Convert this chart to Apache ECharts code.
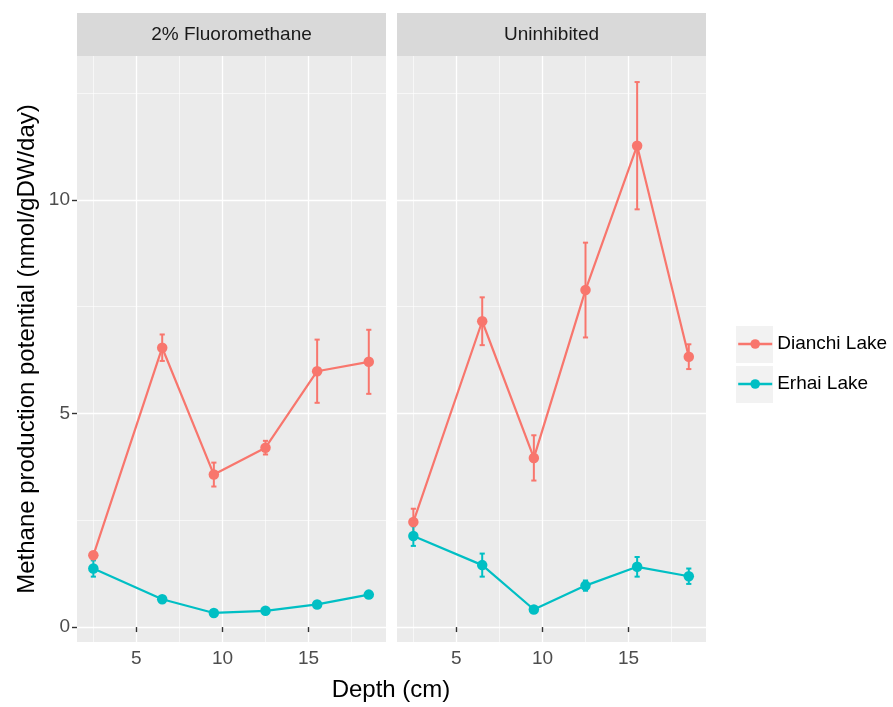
<!DOCTYPE html>
<html lang="en">
<head>
    <meta charset="UTF-8">
    <title>Methane production potential</title>
    <script src="https://cdn.jsdelivr.net/npm/echarts@6/dist/echarts.min.js"></script>
    <style>
        html, body { margin: 0; padding: 0; background: #fff; }
        #main { width: 893px; height: 707px; }
    </style>
</head>
<body>
<div id="main"></div>
<script>
    // depth (cm) and means / standard errors
    var depth = [2.5, 6.5, 9.5, 12.5, 15.5, 18.5];
    var panels = ['2% Fluoromethane', 'Uninhibited'];
    var lakes = ['Dianchi Lake', 'Erhai Lake'];

    var fluoroDianchi   = [1.68, 6.54, 3.57, 4.20, 5.99, 6.21];
    var fluoroDianchiSe = [0.08, 0.31, 0.28, 0.16, 0.74, 0.75];
    var fluoroErhai     = [1.37, 0.65, 0.33, 0.38, 0.53, 0.76];
    var fluoroErhaiSe   = [0.19, 0.05, 0.03, 0.03, 0.04, 0.04];

    var uninhDianchi    = [2.46, 7.16, 3.96, 7.89, 11.27, 6.33];
    var uninhDianchiSe  = [0.31, 0.56, 0.53, 1.11, 1.49, 0.29];
    var uninhErhai      = [2.13, 1.45, 0.41, 0.97, 1.41, 1.19];
    var uninhErhaiSe    = [0.23, 0.27, 0.04, 0.12, 0.23, 0.18];

    var xMajor = [5, 10, 15];
    var xMinor = [2.5, 7.5, 12.5, 17.5];
    var yMajor = [0, 5, 10];
    var yMinor = [2.5, 7.5, 12.5];

    var colors = ['#F8766D', '#00BFC4'];
    var FONT = 'Liberation Sans, Arial, Helvetica, sans-serif';

    var values = [[fluoroDianchi, fluoroErhai], [uninhDianchi, uninhErhai]];
    var errors = [[fluoroDianchiSe, fluoroErhaiSe], [uninhDianchiSe, uninhErhaiSe]];

    var grids = [
        {left: 77, top: 56, width: 309, height: 586},
        {left: 397, top: 56, width: 309, height: 586}
    ];

    var xAxes = [], yAxes = [], lineSeries = [], barSeries = [];

    for (var p = 0; p < 2; p++) {
        // major axis (ticks, labels, thick grid)
        xAxes.push({
            type: 'value', gridIndex: p, min: 1.55, max: 19.5,
            axisLine: {show: false},
            axisTick: {show: true, length: 5, customValues: xMajor, lineStyle: {color: '#333', width: 1.4}},
            axisLabel: {customValues: xMajor, color: '#4D4D4D', fontSize: 19, fontFamily: FONT, margin: 7},
            splitLine: {show: true, lineStyle: {color: '#fff', width: 1.3}}
        });
        // minor grid
        xAxes.push({
            type: 'value', gridIndex: p, min: 1.55, max: 19.5,
            axisLine: {show: false},
            axisTick: {show: false, customValues: xMinor},
            axisLabel: {show: false},
            splitLine: {show: true, lineStyle: {color: '#fff', width: 0.6}}
        });
        yAxes.push({
            type: 'value', gridIndex: p, min: -0.35, max: 13.37,
            axisLine: {show: false},
            axisTick: {show: p === 0, length: 5, customValues: yMajor, lineStyle: {color: '#333', width: 1.4}},
            axisLabel: {show: p === 0, customValues: yMajor, color: '#4D4D4D', fontSize: 19, fontFamily: FONT, margin: 7},
            splitLine: {show: true, lineStyle: {color: '#fff', width: 1.3}}
        });
        yAxes.push({
            type: 'value', gridIndex: p, min: -0.35, max: 13.37,
            axisLine: {show: false},
            axisTick: {show: false, customValues: yMinor},
            axisLabel: {show: false},
            splitLine: {show: true, lineStyle: {color: '#fff', width: 0.6}}
        });

        for (var l = 0; l < 2; l++) {
            var pts = [], bars = [];
            for (var i = 0; i < depth.length; i++) {
                var v = values[p][l][i], e = errors[p][l][i];
                pts.push([depth[i], v]);
                bars.push([depth[i], v - e, v + e]);
            }
            lineSeries.push({
                type: 'line',
                name: lakes[l],
                xAxisIndex: p * 2, yAxisIndex: p * 2,
                data: pts,
                z: 3,
                symbol: 'circle',
                symbolSize: 10.5,
                showSymbol: true,
                lineStyle: {color: colors[l], width: 2.2},
                itemStyle: {color: colors[l]},
                emphasis: {disabled: true}
            });
            barSeries.push({
                type: 'custom',
                name: lakes[l],
                xAxisIndex: p * 2, yAxisIndex: p * 2,
                data: bars,
                z: 2,
                itemStyle: {color: colors[l]},
                renderItem: (function (col) {
                    return function (params, api) {
                        var x = api.value(0);
                        var lo = api.coord([x, api.value(1)]);
                        var hi = api.coord([x, api.value(2)]);
                        var cl = api.coord([x - 0.15, api.value(1)])[0];
                        var cr = api.coord([x + 0.15, api.value(1)])[0];
                        var st = {stroke: col, lineWidth: 2};
                        return {
                            type: 'group',
                            children: [
                                {type: 'line', shape: {x1: lo[0], y1: lo[1], x2: hi[0], y2: hi[1]}, style: st},
                                {type: 'line', shape: {x1: cl, y1: lo[1], x2: cr, y2: lo[1]}, style: st},
                                {type: 'line', shape: {x1: cl, y1: hi[1], x2: cr, y2: hi[1]}, style: st}
                            ]
                        };
                    };
                })(colors[l])
            });
        }
    }

    var graphics = [];
    // facet strips
    for (var s = 0; s < 2; s++) {
        graphics.push({
            type: 'rect', z: -1,
            shape: {x: grids[s].left, y: 13, width: grids[s].width, height: 43},
            style: {fill: '#D9D9D9'}
        });
        graphics.push({
            type: 'text', z: 1,
            x: grids[s].left + grids[s].width / 2, y: 34.5,
            style: {text: panels[s], fill: '#1A1A1A', fontSize: 19, fontFamily: FONT,
                textAlign: 'center', textVerticalAlign: 'middle'}
        });
    }
    // legend key backgrounds
    graphics.push({type: 'rect', z: -1, shape: {x: 736, y: 326, width: 37, height: 37}, style: {fill: '#F2F2F2'}});
    graphics.push({type: 'rect', z: -1, shape: {x: 736, y: 366, width: 37, height: 37}, style: {fill: '#F2F2F2'}});
    // axis titles
    graphics.push({
        type: 'text', x: 391, y: 690,
        style: {text: 'Depth (cm)', fill: '#000', fontSize: 24, fontFamily: FONT,
            textAlign: 'center', textVerticalAlign: 'middle'}
    });
    graphics.push({
        type: 'text', x: 27, y: 349, rotation: Math.PI / 2,
        style: {text: 'Methane production potential (nmol/gDW/day)', fill: '#000', fontSize: 24, fontFamily: FONT,
            textAlign: 'center', textVerticalAlign: 'middle'}
    });

    var myChart = echarts.init(document.getElementById('main'), null, {renderer: 'canvas'});
    var option = {
        backgroundColor: '#fff',
        animation: false,
        grid: grids.map(function (g) {
            return {left: g.left, top: g.top, width: g.width, height: g.height,
                show: true, backgroundColor: '#EBEBEB', borderWidth: 0};
        }),
        xAxis: xAxes,
        yAxis: yAxes,
        legend: {
            data: lakes,
            orient: 'vertical',
            left: 737, top: 333,
            padding: 0,
            itemWidth: 34, itemHeight: 12,
            itemGap: 18,
            lineStyle: {width: 2.4},
            textStyle: {color: '#000', fontSize: 19, fontFamily: FONT, lineHeight: 22},
            selectedMode: false
        },
        graphic: graphics,
        // line series first so the legend takes its icon from them
        series: lineSeries.concat(barSeries)
    };
    myChart.setOption(option);
</script>
</body>
</html>
